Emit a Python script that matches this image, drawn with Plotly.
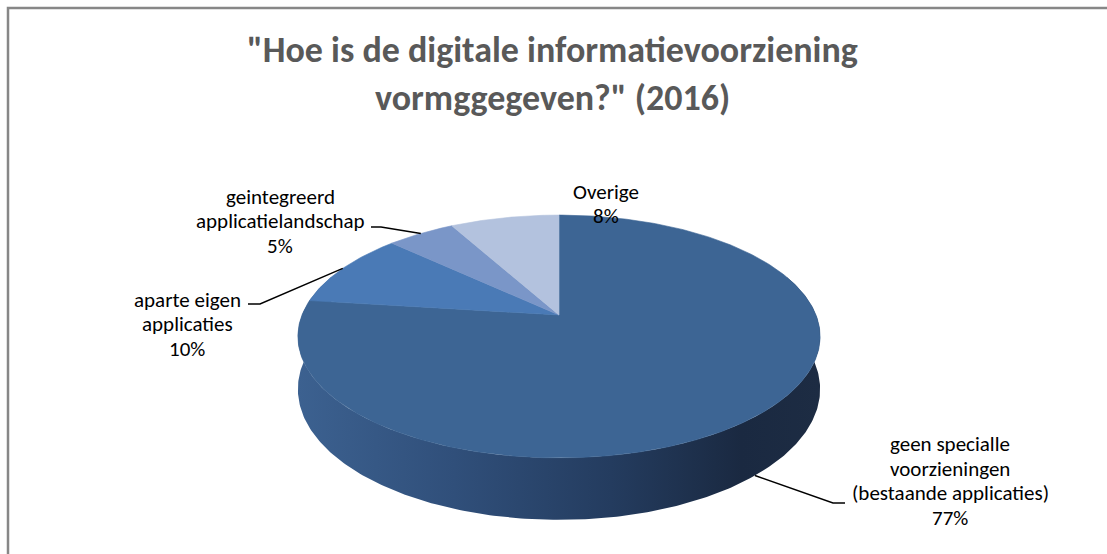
import numpy as np
import plotly.graph_objects as go

# ---------------- data ----------------
categories = [
    "geen specialle voorzieningen (bestaande applicaties)",
    "aparte eigen applicaties",
    "geintegreerd applicatielandschap",
    "Overige",
]
label_lines = [
    ["geen specialle", "voorzieningen", "(bestaande applicaties)"],
    ["aparte eigen", "applicaties"],
    ["geintegreerd", "applicatielandschap"],
    ["Overige"],
]
values = [77, 10, 5, 8]
title_lines = ['"Hoe is de digitale informatievoorziening', 'vormggegeven?" (2016)']

# ---------------- style / layout ----------------
W, H = 1107, 554
slice_colors = ["#3D6594", "#4A7AB6", "#7A96C8", "#B3C2DE"]
wall_scale = [[0.0, "#3C6190"], [0.3, "#304F7A"], [0.6, "#243C5F"], [0.85, "#1A2941"], [1.0, "#1D2C43"]]
FONT = "Calibri, Carlito, 'Liberation Sans', Arial, sans-serif"
CX, CY = 559, 315        # pie apex (pixel space)
RX, RY = 257, 117.6      # radii of the tilted disc
PERSP = 5.65             # perspective distance
DEPTH = 51               # thickness of the pie
LABEL_SIZE = 21
LINE_GAP = 24.5
label_pos = [(950, 481), (187, 324), (280, 221), (606, 204)]   # block centres
leader_elbows = [[(833, 503), (845, 503)], [(260, 304), (248, 304)], [(381, 227), (371, 227)], None]
title_y = [50, 98]


def project(t, h=0.0):
    t = np.asarray(t, dtype=float)
    X, Yd = np.cos(t), np.sin(t)
    f = PERSP / (PERSP + Yd)
    return CX + RX * X * f, CY - RY * Yd * f + h * f


fig = go.Figure()

# side wall (front part of the cylinder)
tw = np.radians(np.linspace(-200, 20, 300))
xt, yt = project(tw, 0)
xb, yb = project(tw[::-1], DEPTH)
fig.add_trace(go.Scatter(
    x=np.concatenate([xt, xb]), y=np.concatenate([yt, yb]),
    mode="lines", fill="toself", line=dict(width=0, color="#22395A"),
    fillgradient=dict(type="horizontal", colorscale=wall_scale),
    hoverinfo="skip", showlegend=False,
))

# top faces of the slices
total = float(sum(values))
cum = np.concatenate([[0], np.cumsum(values)]) / total
anchors = []
for i, (cat, v) in enumerate(zip(categories, values)):
    t0 = np.pi / 2 - 2 * np.pi * cum[i]
    t1 = np.pi / 2 - 2 * np.pi * cum[i + 1]
    ts = np.linspace(t0, t1, max(8, int(abs(t1 - t0) * 80)))
    ax, ay = project(ts, 0)
    fig.add_trace(go.Scatter(
        x=np.concatenate([[CX], ax, [CX]]), y=np.concatenate([[CY], ay, [CY]]),
        mode="lines", fill="toself", fillcolor=slice_colors[i],
        line=dict(width=0.6, color=slice_colors[i]),
        name=cat, text=f"{cat}: {v}%", hoverinfo="text", showlegend=False,
    ))
    tm = (t0 + t1) / 2
    h = DEPTH if np.sin(tm) < 0 else 0.0
    px, py = project(tm, h)
    anchors.append((float(px), float(py)))

# labels and leader lines
for i, (lines, v) in enumerate(zip(label_lines, values)):
    pct = f"{v / total * 100:.0f}%"
    all_lines = lines + [pct]
    lx, ly = label_pos[i]
    n = len(all_lines)
    for k, txt in enumerate(all_lines):
        fig.add_annotation(x=lx, y=ly + (k - (n - 1) / 2) * LINE_GAP, xref="x", yref="y",
                           text=txt, showarrow=False, xanchor="center", yanchor="middle",
                           font=dict(family=FONT, size=LABEL_SIZE, color="#000000"))
    if leader_elbows[i] is not None:
        pts = [anchors[i]] + leader_elbows[i]
        fig.add_trace(go.Scatter(x=[p[0] for p in pts], y=[p[1] for p in pts], mode="lines",
                                 line=dict(color="#000000", width=1.4),
                                 hoverinfo="skip", showlegend=False))

# title
for tl, ty in zip(title_lines, title_y):
    fig.add_annotation(x=552, y=ty, xref="x", yref="y", text=f"<b>{tl}</b>",
                       showarrow=False, xanchor="center", yanchor="middle",
                       font=dict(family=FONT, size=36, color="#595959"))

# chart-area border
fig.add_shape(type="rect", x0=8, y0=8, x1=W + 20, y1=H + 20, xref="x", yref="y",
              line=dict(color="#878787", width=2.5), fillcolor="rgba(0,0,0,0)", layer="below")

fig.update_layout(
    width=W, height=H, margin=dict(l=0, r=0, t=0, b=0),
    paper_bgcolor="white", plot_bgcolor="white",
    xaxis=dict(range=[0, W], visible=False, fixedrange=True),
    yaxis=dict(range=[H, 0], visible=False, fixedrange=True),
    showlegend=False,
)

fig.write_html("out.html", config={"displayModeBar": False},
               post_script="document.body.style.margin='0';document.body.style.overflow='hidden';")
